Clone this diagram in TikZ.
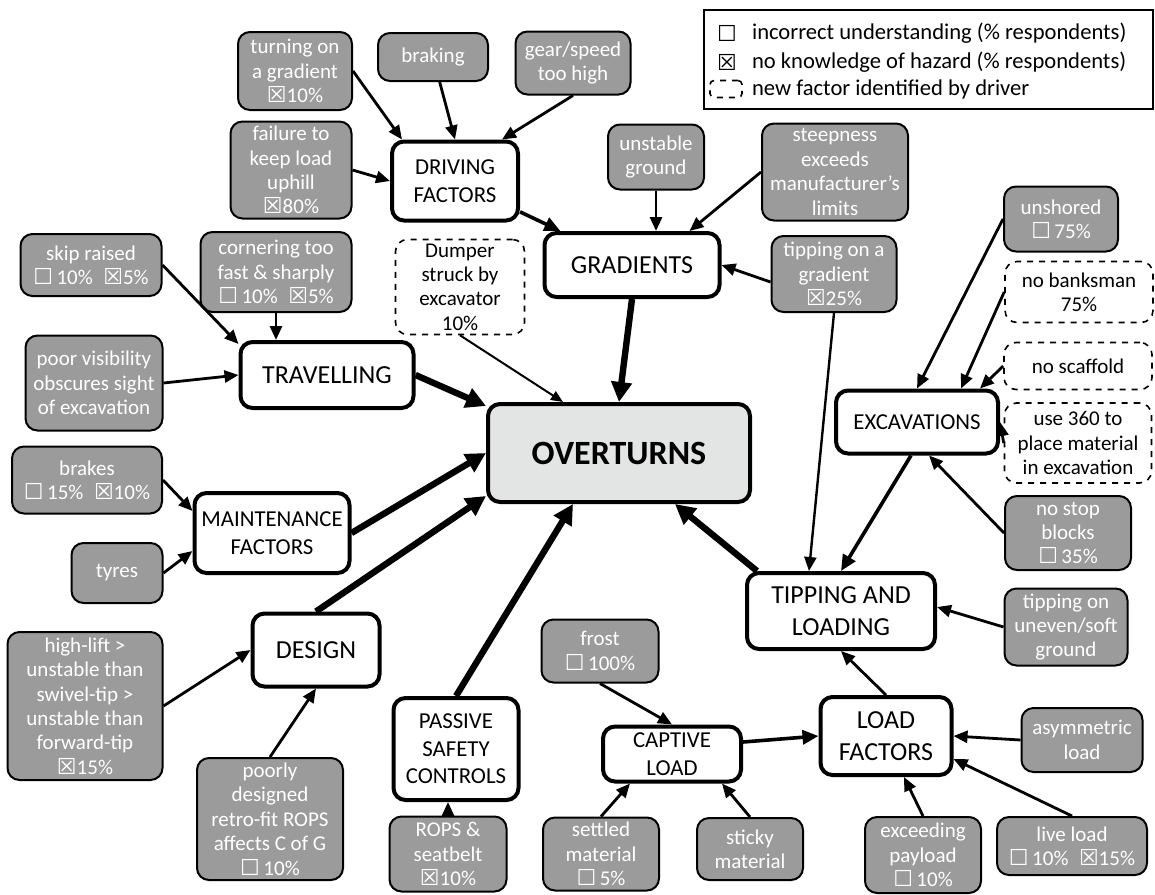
\documentclass[tikz,border=0pt]{standalone}
\usepackage{fontspec}
\setmainfont{Carlito}
\newfontfamily\symfont{DejaVu Sans}
\usetikzlibrary{arrows.meta, positioning}
\definecolor{factorgray}{RGB}{155,155,155}
\definecolor{overgray}{RGB}{227,228,228}
\newcommand{\wrongbox}{{\symfont\fontsize{11}{11}\selectfont ☐}\,}
\newcommand{\nokbox}{{\symfont\fontsize{11}{11}\selectfont ☒}}
\tikzset{
  wh/.style 2 args={minimum width=#1*0.5pt, minimum height=#2*0.5pt},
  factor/.style={draw, line width=1pt, rounded corners=6pt, fill=factorgray,
    text=white, align=center, inner sep=1pt, font=\fontsize{10.5}{12.2}\selectfont},
  newfactor/.style={draw, dashed, line width=0.8pt, rounded corners=6pt, fill=white,
    align=center, inner sep=1pt, font=\fontsize{10.5}{12.2}\selectfont},
  group/.style={draw, line width=2pt, rounded corners=6pt, fill=white,
    align=center, inner sep=1pt, font=\fontsize{13}{16}\selectfont},
  smallgroup/.style={group, font=\fontsize{11.4}{13.8}\selectfont},
  legendtext/.style={right, font=\fontsize{11.3}{12}\selectfont},
  feed/.style={-{Triangle[length=7pt,width=6pt]}, line width=1.4pt},
  link/.style={-{Triangle[length=8pt,width=7pt]}, line width=1.8pt},
  major/.style={-{Triangle[length=10pt,width=10pt]}, line width=3.2pt},
  weak/.style={-{Triangle[length=6pt,width=5pt]}, line width=1pt},
}

\begin{document}
\begin{tikzpicture}[x=0.5pt, y=-0.5pt]
    \useasboundingbox (0,0) rectangle (1155,894);

    % Legend
    \node[draw, line width=1pt, anchor=north west, wh={449}{99}] (legend) at (703,9) {};
    \node (lgwrong) at (727,33) {{\symfont\fontsize{11}{11}\selectfont ☐}};
    \node[legendtext] (lgwrongtxt) at (745,33) {incorrect understanding (\% respondents)};
    \node (lgnok) at (727,62) {\nokbox};
    \node[legendtext] (lgnoktxt) at (745,62) {no knowledge of hazard (\% respondents)};
    \node[draw, dashed, line width=0.8pt, rounded corners=2pt, wh={32}{17}] (lgnew) at (726,89) {};
    \node[legendtext] (lgnewtxt) at (745,89) {new factor identified by driver};

    % Centre
    \node[group, fill=overgray, wh={262}{98}, font=\bfseries\fontsize{17}{18}\selectfont] (over) at (619,453) {OVERTURNS};

    % Driving factors and gradients
    \node[factor, wh={114}{78}] (turn) at (295,71) {turning on\\a gradient\\\nokbox10\%};
    \node[factor, wh={110}{48}] (brk) at (433,57) {braking};
    \node[factor, wh={115}{63}] (gear) at (573,63) {gear/speed\\too high};
    \node[factor, wh={121}{97}] (fail) at (291,170) {failure to\\keep load\\uphill\\\nokbox80\%};
    \node[smallgroup, wh={126}{79}] (drv) at (455,181) {DRIVING\\FACTORS};
    \node[factor, wh={96}{65}] (unst) at (656,157) {unstable\\ground};
    \node[factor, wh={146}{97}] (steep) at (835,172) {steepness\\exceeds\\manufacturer’s\\limits};
    \node[group, wh={175}{64}] (grad) at (632,265) {GRADIENTS};
    \node[factor, wh={125}{76}] (tgrad) at (834,274) {tipping on a\\gradient\\\nokbox25\%};
    \node[newfactor, wh={129}{95}] (dump) at (460,287) {Dumper\\struck by\\excavator\\10\%};

    % Travelling
    \node[factor, wh={141}{62}] (skip) at (91,265) {skip raised\\\wrongbox10\%\enspace\nokbox5\%};
    \node[factor, wh={151}{80}] (corn) at (276,272) {cornering too\\fast \& sharply\\\wrongbox10\%\enspace\nokbox5\%};
    \node[factor, wh={137}{95}] (poor) at (94,383) {poor visibility\\obscures sight\\of excavation};
    \node[group, wh={173}{66}] (trav) at (327,375) {TRAVELLING};

    % Maintenance
    \node[factor, wh={150}{67}] (brakes) at (87,480) {brakes\\\wrongbox15\%\enspace\nokbox10\%};
    \node[factor, wh={91}{60}] (tyres) at (117,573) {tyres};
    \node[smallgroup, wh={155}{80}] (maint) at (272,533) {MAINTENANCE\\FACTORS};

    % Design
    \node[group, wh={127}{73}] (design) at (316,650) {DESIGN};
    \node[factor, wh={155}{148}] (hl) at (85,706) {high-lift >\\unstable than\\swivel-tip >\\unstable than\\forward-tip\\\nokbox15\%};
    \node[factor, wh={146}{122}] (poorly) at (270,819) {poorly\\designed\\retro-fit ROPS\\affects C of G\\\wrongbox10\%};

    % Passive safety
    \node[smallgroup, wh={125}{102}] (pass) at (456,749) {PASSIVE\\SAFETY\\CONTROLS};
    \node[factor, wh={117}{75}] (rops) at (448,854) {ROPS \&\\seatbelt\\\nokbox10\%};

    % Excavations
    \node[smallgroup, wh={162}{63}] (exc) at (917,422) {EXCAVATIONS};
    \node[factor, wh={114}{65}] (unsh) at (1061,219) {unshored\\\wrongbox75\%};
    \node[newfactor, wh={148}{61}] (banks) at (1079,292) {no banksman\\75\%};
    \node[newfactor, wh={148}{47}] (scaf) at (1078,366) {no scaffold};
    \node[newfactor, wh={147}{80}] (use) at (1078,443) {use 360 to\\place material\\in excavation};
    \node[factor, wh={126}{74}] (nostop) at (1068,533) {no stop\\blocks\\\wrongbox35\%};

    % Tipping and loading
    \node[group, wh={188}{76}] (tip) at (841,611) {TIPPING AND\\LOADING};
    \node[factor, wh={123}{77}] (tuneven) at (1066,627) {tipping on\\uneven/soft\\ground};
    \node[group, wh={131}{78}] (load) at (886,736) {LOAD\\FACTORS};
    \node[factor, wh={121}{64}] (asym) at (1082,740) {asymmetric\\load};
    \node[factor, wh={116}{76}] (exceed) at (923,855) {exceeding\\payload\\\wrongbox10\%};
    \node[factor, wh={150}{58}] (live) at (1072,846) {live load\\\wrongbox10\%\enspace\nokbox15\%};
    \node[smallgroup, wh={138}{55}] (cap) at (672,754) {CAPTIVE\\LOAD};
    \node[factor, wh={117}{63}] (frost) at (600,651) {frost\\\wrongbox100\%};
    \node[factor, wh={116}{73}] (settled) at (601,854) {settled\\material\\\wrongbox5\%};
    \node[factor, wh={106}{62}] (sticky) at (750,849) {sticky\\material};

    % Connectors into the groups
    \draw[feed] (turn.east) -- ([xshift=6pt]drv.north west);
    \draw[feed] (brk) -- (drv.north);
    \draw[feed] (gear.south) -- ([xshift=-9pt]drv.north east);
    \draw[feed] (fail.east) -- (drv.west);
    \draw[link] (drv) -- (grad);
    \draw[feed] (unst.south) -- (unst.south |- grad.north);
    \draw[feed] (steep.west) -- ([xshift=-16pt]grad.north east);
    \draw[feed] ([yshift=-4pt]tgrad.west) -- (grad.east);
    \draw[feed, line width=1.2pt] (tgrad.south) -- ([xshift=-16pt]tip.north);
    \draw[feed] (skip.east) -- ([yshift=-2pt]trav.north west);
    \draw[feed] (corn.south) -- (corn.south |- trav.north);
    \draw[feed] (poor.east) -- (trav.west);
    \draw[feed] (brakes.east) -- ([yshift=11pt]maint.west);
    \draw[feed] (tyres.east) -- ([yshift=-9pt]maint.west);
    \draw[feed] (hl.east) -- (design.west);
    \draw[feed] (poorly.north) -- (design.south);
    \draw[feed] (rops.north) -- (rops.north |- pass.south);
    \draw[feed] (unsh.west) -- (exc.north);
    \draw[feed] (banks.west) -- ([xshift=22pt]exc.north);
    \draw[feed] (scaf.west) -- ([xshift=-10pt]exc.north east);
    \draw[feed] (use.west) -- (exc.east);
    \draw[feed] (nostop.west) -- ([xshift=6pt]exc.south);
    \draw[link] ([xshift=-3pt]exc.south) -- (tip.north);
    \draw[feed] (tuneven.west) -- ([yshift=2pt]tip.east);
    \draw[feed] (load.north) -- (tip.south);
    \draw[feed] (asym.west) -- (load.east);
    \draw[feed] (exceed.north) -- ([xshift=9pt]load.south);
    \draw[feed] (live.north) -- ([yshift=9pt]load.south east);
    \draw[link] ([yshift=6pt]cap.east) -- (load.west);
    \draw[feed] (frost.south) -- (cap.north);
    \draw[feed] (settled.north) -- ([xshift=-21pt]cap.south);
    \draw[feed] (sticky.north) -- ([xshift=25pt]cap.south);

    % Groups into OVERTURNS
    \draw[major] (grad.south) -- (over.north);
    \draw[weak] (dump.south) -- ([xshift=-28pt]over.north);
    \draw[major] (trav.east) -- ([yshift=-2pt]over.north west);
    \draw[major] (maint.east) -- (over.west);
    \draw[major] (design.north) -- ([yshift=4pt]over.south west);
    \draw[major] (pass.north) -- ([xshift=-23pt]over.south);
    \draw[major] ([xshift=6pt]tip.north west) -- ([xshift=28pt]over.south);
\end{tikzpicture}
\end{document}
